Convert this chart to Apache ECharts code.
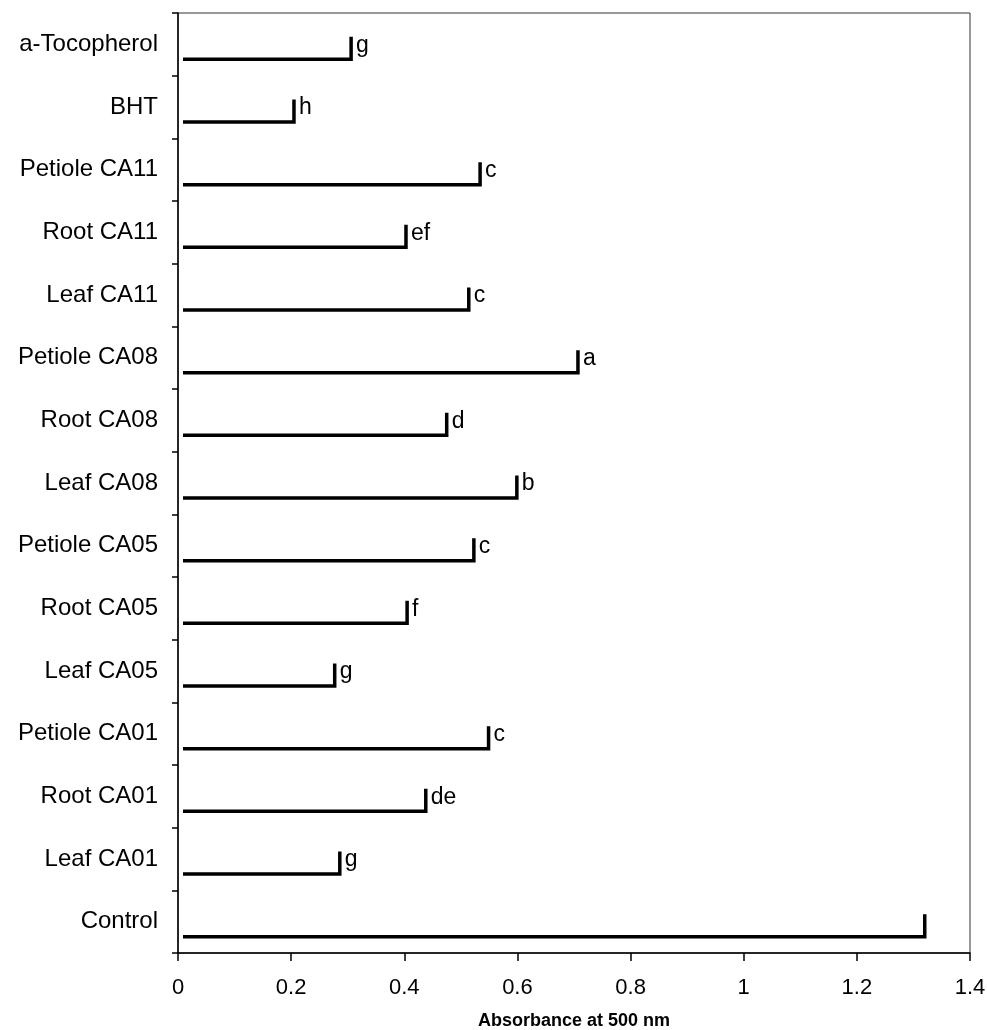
<!DOCTYPE html>
<html>
<head>
<meta charset="utf-8">
<script src="https://cdn.jsdelivr.net/npm/echarts@6/dist/echarts.min.js"></script>
<style>
html,body{margin:0;padding:0;background:#fff;}
#chart{width:987px;height:1030px;}
</style>
</head>
<body>
<div id="chart"></div>
<script>
const categories = ['Control','Leaf CA01','Root CA01','Petiole CA01','Leaf CA05','Root CA05','Petiole CA05','Leaf CA08','Root CA08','Petiole CA08','Leaf CA11','Root CA11','Petiole CA11','BHT','a-Tocopherol'];
const values = [1.32, 0.286, 0.438, 0.549, 0.277, 0.405, 0.523, 0.599, 0.475, 0.707, 0.514, 0.403, 0.534, 0.205, 0.306];
const letters = ['', 'g', 'de', 'c', 'g', 'f', 'c', 'b', 'd', 'a', 'c', 'ef', 'c', 'h', 'g'];
const xTicks = [0, 0.2, 0.4, 0.6, 0.8, 1, 1.2, 1.4];
const xName = 'Absorbance at 500 nm';

const FONT = '"Liberation Sans", Arial, sans-serif';
const chart = echarts.init(document.getElementById('chart'));

const seriesData = values.map((v, i) => [v, i, letters[i]]);

chart.setOption({
  animation: false,
  backgroundColor: '#fff',
  grid: {
    left: 178, right: 17, top: 13, bottom: 77,
    containLabel: false,
    outerBoundsMode: 'none',
    show: true, borderColor: '#333', borderWidth: 1, backgroundColor: 'transparent'
  },
  xAxis: {
    type: 'value',
    min: xTicks[0], max: xTicks[xTicks.length - 1], interval: 0.2,
    name: xName,
    nameLocation: 'middle',
    nameGap: 59,
    nameTextStyle: { fontFamily: FONT, fontSize: 18, fontWeight: 'bold', color: '#000' },
    axisLine: { show: true, onZero: false, lineStyle: { color: '#000', width: 1.5 } },
    axisTick: { show: true, length: 8, lineStyle: { color: '#000', width: 1.5 } },
    axisLabel: { fontFamily: FONT, fontSize: 22, color: '#000', margin: 24 },
    splitLine: { show: false }
  },
  yAxis: {
    type: 'category',
    data: categories,
    axisLine: { show: true, lineStyle: { color: '#000', width: 1.5 } },
    axisTick: { show: true, length: 6, lineStyle: { color: '#000', width: 1.5 } },
    axisLabel: { fontFamily: FONT, fontSize: 24, color: '#000', margin: 20 },
    splitLine: { show: false }
  },
  series: [{
    type: 'custom',
    data: seriesData,
    renderItem: function (params, api) {
      const v = api.value(0);
      const idx = api.value(1);
      const end = api.coord([v, idx]);
      const start = api.coord([0, idx]);
      const band = api.size([0, 1])[1];
      const yLine = end[1] + band * 0.24;
      const yTop = end[1] - band * 0.12;
      const x0 = start[0] + 5;
      const x1 = end[0];
      const lbl = letters[params.dataIndex];
      return {
        type: 'group',
        children: [
          {
            type: 'polyline',
            shape: { points: [[x0, yLine], [x1, yLine], [x1, yTop]] },
            style: { stroke: '#000', lineWidth: 3.5, fill: null, lineJoin: 'miter' }
          },
          {
            type: 'text',
            style: {
              text: lbl,
              x: x1 + 5,
              y: end[1] + 1,
              textAlign: 'left',
              textVerticalAlign: 'middle',
              verticalAlign: 'middle',
              font: '23px ' + FONT,
              fill: '#000'
            }
          }
        ]
      };
    }
  }]
});
</script>
</body>
</html>
